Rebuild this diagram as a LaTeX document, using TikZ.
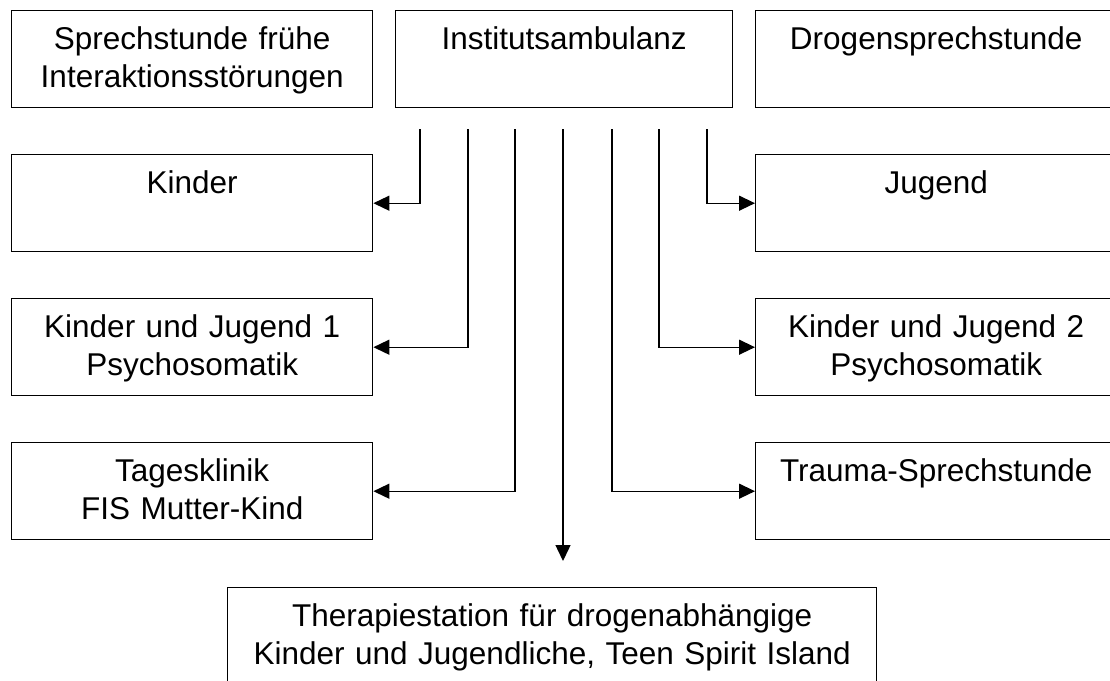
\documentclass[tikz,border=0pt]{standalone}
\usepackage{fontspec}
\setmainfont{Liberation Sans}
\usetikzlibrary{arrows.meta, positioning, calc}
\tikzset{
    unitbox/.style={draw, line width=1.4pt, rectangle, anchor=north west,
                    minimum width=361pt, text width=355pt,
                    inner xsep=3pt, inner ysep=0pt, align=center,
                    text height=39pt, text depth=58pt,
                    font=\fontsize{31.5}{38}\selectfont},
    branch/.style={-{Triangle[length=16pt, width=15pt]}, line width=1.4pt},
}

\begin{document}
\begin{tikzpicture}[
    x=1pt, y=-1pt,
    widebox/.style={unitbox, minimum width=337pt, text width=331pt},
    basebox/.style={unitbox, minimum width=649pt, text width=643pt},
]
\clip (0,0) rectangle (1110,680);

% --- top row ---
\node[unitbox] (spf) at (11,10) {Sprechstunde frühe\\Interaktionsstörungen};
\node[widebox] (inst) at (395,10) {Institutsambulanz};
\node[unitbox] (drog) at (755,10) {Drogensprechstunde};

% --- left column ---
\node[unitbox] (kinder) at (11,154) {Kinder};
\node[unitbox] (kj1) at (11,298) {Kinder und Jugend 1\\Psychosomatik};
\node[unitbox] (tages) at (11,442) {Tagesklinik\\FIS Mutter-Kind};

% --- right column ---
\node[unitbox] (jugend) at (755,154) {Jugend};
\node[unitbox] (kj2) at (755,298) {Kinder und Jugend 2\\Psychosomatik};
\node[unitbox] (trauma) at (755,442) {Trauma-Sprechstunde};

% --- bottom ---
\node[basebox] (tsi) at (227,587)
    {Therapiestation für drogenabhängige\\Kinder und Jugendliche, Teen Spirit Island};

% --- branches below the Institutsambulanz ---
\coordinate (o-k) at (420,129);
\coordinate (o-kj1) at (468,129);
\coordinate (o-t) at (515,129);
\coordinate (o-m) at (563,129);
\coordinate (o-tr) at (612,129);
\coordinate (o-kj2) at (659,129);
\coordinate (o-j) at (707,129);
\coordinate (e-m) at (563,561);

\draw[branch] (o-k) |- (kinder.east);
\draw[branch] (o-kj1) |- (kj1.east);
\draw[branch] (o-t) |- (tages.east);
\draw[branch] (o-m) -- (e-m);
\draw[branch] (o-tr) |- (trauma.west);
\draw[branch] (o-kj2) |- (kj2.west);
\draw[branch] (o-j) |- (jugend.west);
\end{tikzpicture}
\end{document}
